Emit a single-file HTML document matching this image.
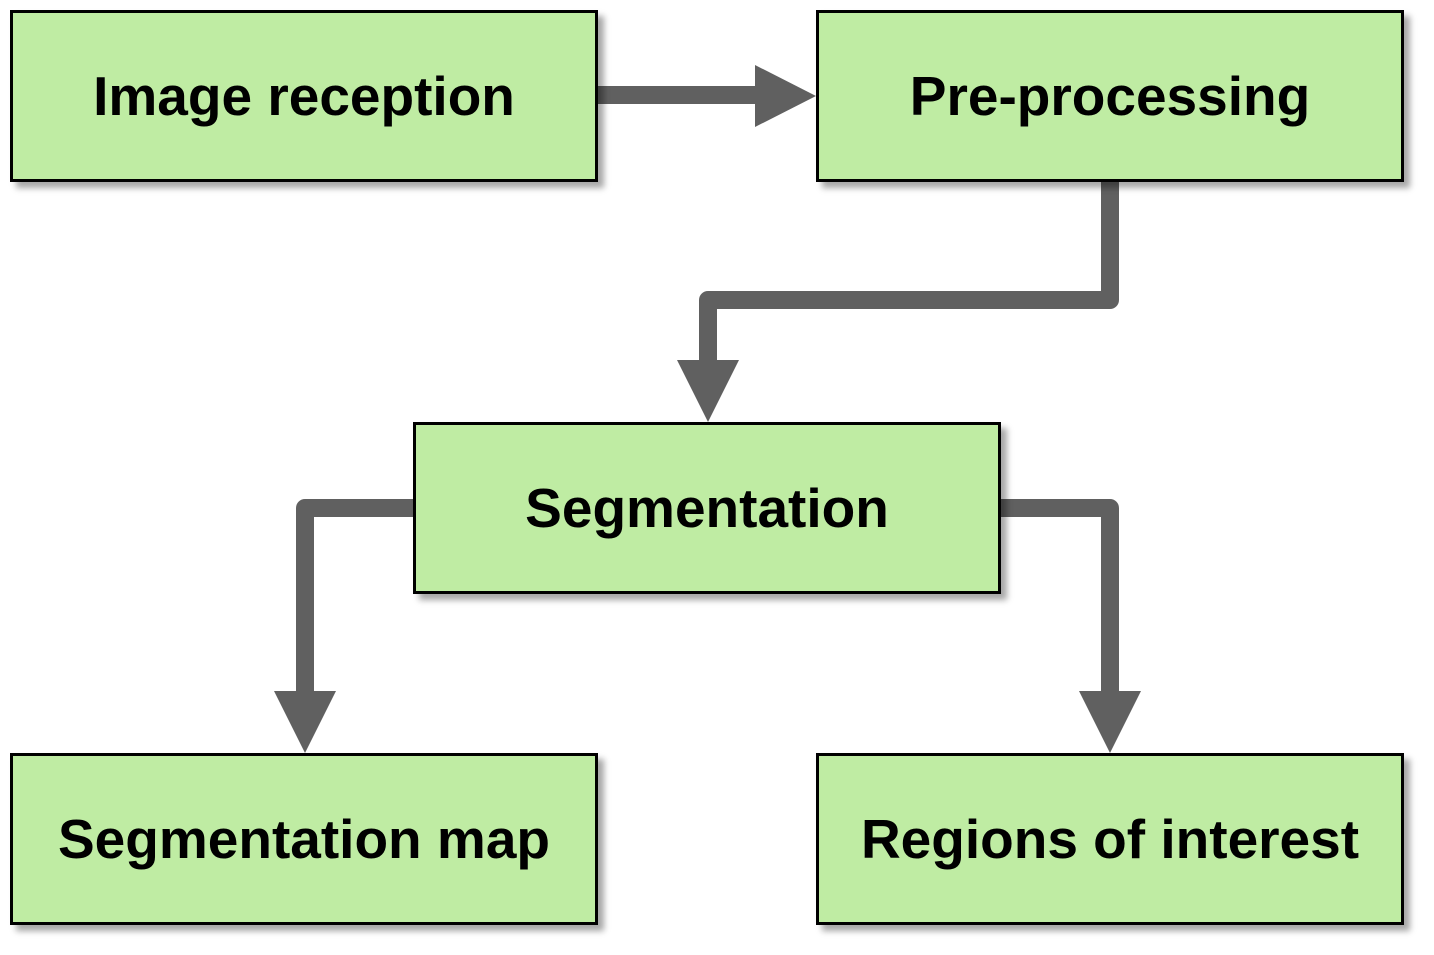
<!DOCTYPE html>
<html><head><style>
html,body{margin:0;padding:0;background:#fff;}
body{width:1434px;height:955px;position:relative;overflow:hidden;}
.b{position:absolute;background:#bfeca3;border:3px solid #000;box-sizing:border-box;box-shadow:6px 6px 6px rgba(0,0,0,0.35);display:flex;align-items:center;justify-content:center;font-family:"Liberation Sans",sans-serif;font-weight:bold;font-size:55px;color:#000;}
svg{position:absolute;left:0;top:0;}
</style></head><body>
<svg width="1434" height="955">
<g fill="none" stroke="#606060" stroke-width="18" stroke-linejoin="round">
<path d="M598 95 H760"/>
<path d="M1110 182 V300 H708 V365"/>
<path d="M413 508 H305 V695"/>
<path d="M1000 508 H1110 V695"/>
</g>
<g fill="#606060">
<polygon points="755,65 816,96 755,127"/>
<polygon points="677,360 739,360 708,422"/>
<polygon points="274,691 336,691 305,753"/>
<polygon points="1079,691 1141,691 1110,753"/>
</g>
</svg>
<div class="b" style="left:10px;top:10px;width:588px;height:172px;">Image reception</div>
<div class="b" style="left:816px;top:10px;width:588px;height:172px;">Pre-processing</div>
<div class="b" style="left:413px;top:422px;width:588px;height:172px;">Segmentation</div>
<div class="b" style="left:10px;top:753px;width:588px;height:172px;">Segmentation map</div>
<div class="b" style="left:816px;top:753px;width:588px;height:172px;">Regions of interest</div>
</body></html>
